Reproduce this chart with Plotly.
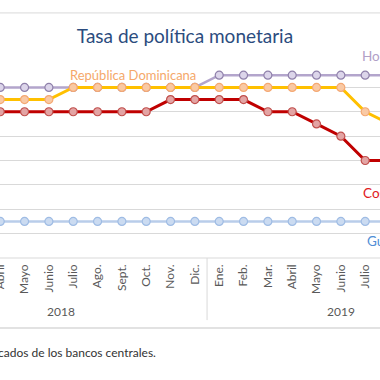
import plotly.graph_objects as go

# ---- data ----
years = ["2018"] * 12 + ["2019"] * 11
months = ["Ene.", "Feb.", "Mar.", "Abril", "Mayo", "Junio", "Julio", "Ago.", "Sept.", "Oct.", "Nov.", "Dic.",
          "Ene.", "Feb.", "Mar.", "Abril", "Mayo", "Junio", "Julio", "Ago.", "Sept.", "Oct.", "Nov."]

honduras = [None, None, 5.50, 5.50, 5.50, 5.50, 5.50, 5.50, 5.50, 5.50, 5.50, 5.50,
            5.75, 5.75, 5.75, 5.75, 5.75, 5.75, 5.75, 5.75, None, None, None]
rep_dominicana = [None, None, 5.25, 5.25, 5.25, 5.25, 5.50, 5.50, 5.50, 5.50, 5.50, 5.50,
                  5.50, 5.50, 5.50, 5.50, 5.50, 5.50, 5.00, 4.75, None, None, None]
costa_rica = [None, None, 5.00, 5.00, 5.00, 5.00, 5.00, 5.00, 5.00, 5.00, 5.25, 5.25,
              5.25, 5.25, 5.00, 5.00, 4.75, 4.50, 4.00, 4.00, None, None, None]
guatemala = [None, None, 2.75, 2.75, 2.75, 2.75, 2.75, 2.75, 2.75, 2.75, 2.75, 2.75,
             2.75, 2.75, 2.75, 2.75, 2.75, 2.75, 2.75, 2.75, None, None, None]

idx = list(range(len(months)))

fig = go.Figure()


def add(name, vals, line_color, fill, outline, width):
    fig.add_trace(go.Scatter(
        x=idx, y=vals, name=name, mode="lines+markers",
        line=dict(color=line_color, width=width),
        marker=dict(size=8, color=fill, line=dict(color=outline, width=1.2)),
        cliponaxis=False, connectgaps=False, hoverinfo="skip",
    ))


add("Guatemala", guatemala, "#B9CDEA", "#CBDBF1", "#9FBCE4", 2.5)
add("Honduras", honduras, "#B3A5CC", "#DCD5EA", "#8F80AA", 2.5)
add("Costa Rica", costa_rica, "#C00000", "#E3A4A4", "#C0504D", 3)
add("República Dominicana", rep_dominicana, "#FFC000", "#F9C9A4", "#F4A873", 3)

W, H = 380, 380
top, bottom = 63.3, 258.0
ph = bottom - top


def py(p):
    return (bottom - p) / ph


# year group labels centred on each year's months, divider between groups
year_names = []
for yv in years:
    if yv not in year_names:
        year_names.append(yv)
annotations = []
shapes = []
for yv in year_names:
    pos = [i for i, v in enumerate(years) if v == yv]
    annotations.append(dict(text=yv, x=(pos[0] + pos[-1]) / 2, xref="x", y=py(311.7), yref="paper",
                            xanchor="center", yanchor="middle", showarrow=False,
                            font=dict(size=12, color="#595959")))
    if pos[0] > 0:
        shapes.append(dict(type="line", xref="x", yref="paper", x0=pos[0] - 0.5, x1=pos[0] - 0.5,
                           y0=0, y1=py(320), line=dict(color="#D9D9D9", width=1)))

annotations += [
    dict(text="Honduras", x=360 / W, xref="paper", y=py(56.7), yref="paper",
         xanchor="left", yanchor="middle", showarrow=False,
         font=dict(size=13.5, color="#B1A0C7")),
    dict(text="República Dominicana", x=133.3 / W, xref="paper", y=py(75.7), yref="paper",
         xanchor="center", yanchor="middle", showarrow=False,
         font=dict(size=13, color="#F5A86A")),
    dict(text="Costa Rica", x=361 / W, xref="paper", y=py(192.7), yref="paper",
         xanchor="left", yanchor="middle", showarrow=False,
         font=dict(size=13.5, color="#E0191C")),
    dict(text="Guatemala", x=365 / W, xref="paper", y=py(241.5), yref="paper",
         xanchor="left", yanchor="middle", showarrow=False,
         font=dict(size=13.5, color="#4F8ED6")),
    dict(text="Fuente: elaboración propia con datos publicados de los bancos centrales.",
         x=158 / W, xref="paper", y=py(352.7), yref="paper",
         xanchor="right", yanchor="middle", showarrow=False,
         font=dict(size=12, color="#333333")),
]

shapes += [
    dict(type="line", xref="paper", yref="paper", x0=0, x1=1, y0=py(13.3), y1=py(13.3),
         line=dict(color="#D9D9D9", width=1)),
    dict(type="line", xref="paper", yref="paper", x0=0, x1=1, y0=0, y1=0,
         line=dict(color="#D9D9D9", width=1)),
    dict(type="line", xref="paper", yref="paper", x0=0, x1=1, y0=py(328), y1=py(328),
         line=dict(color="#D9D9D9", width=1.5)),
]

fig.update_layout(
    width=W, height=H,
    margin=dict(l=0, r=0, t=top, b=H - bottom, pad=0),
    paper_bgcolor="white", plot_bgcolor="white",
    showlegend=False,
    hovermode=False,
    font=dict(family="Lato, sans-serif", color="#595959"),
    title=dict(text="Tasa de política monetaria", x=185 / W, xanchor="center",
               y=1 - 36.7 / H, yanchor="middle", yref="container",
               font=dict(family="Lato, sans-serif", size=19, color="#2B4C7E")),
    xaxis=dict(
        range=[2.99, 2.99 + W / 24.33],
        tickmode="array", tickvals=idx, ticktext=months,
        tickangle=-90,
        tickfont=dict(size=12, color="#595959"),
        ticklabelstandoff=3,
        ticklabeloverflow="allow",
        showgrid=False, showline=False, ticks="", zeroline=False,
        automargin=False,
    ),
    yaxis=dict(range=[2, 6], dtick=0.5, showgrid=True, gridcolor="#D9D9D9", gridwidth=1,
               showticklabels=False, zeroline=False, showline=False, automargin=False),
    annotations=annotations,
    shapes=shapes,
)

fig.write_html("out.html", config={"displayModeBar": False},
               post_script="document.body.style.margin='0';")
